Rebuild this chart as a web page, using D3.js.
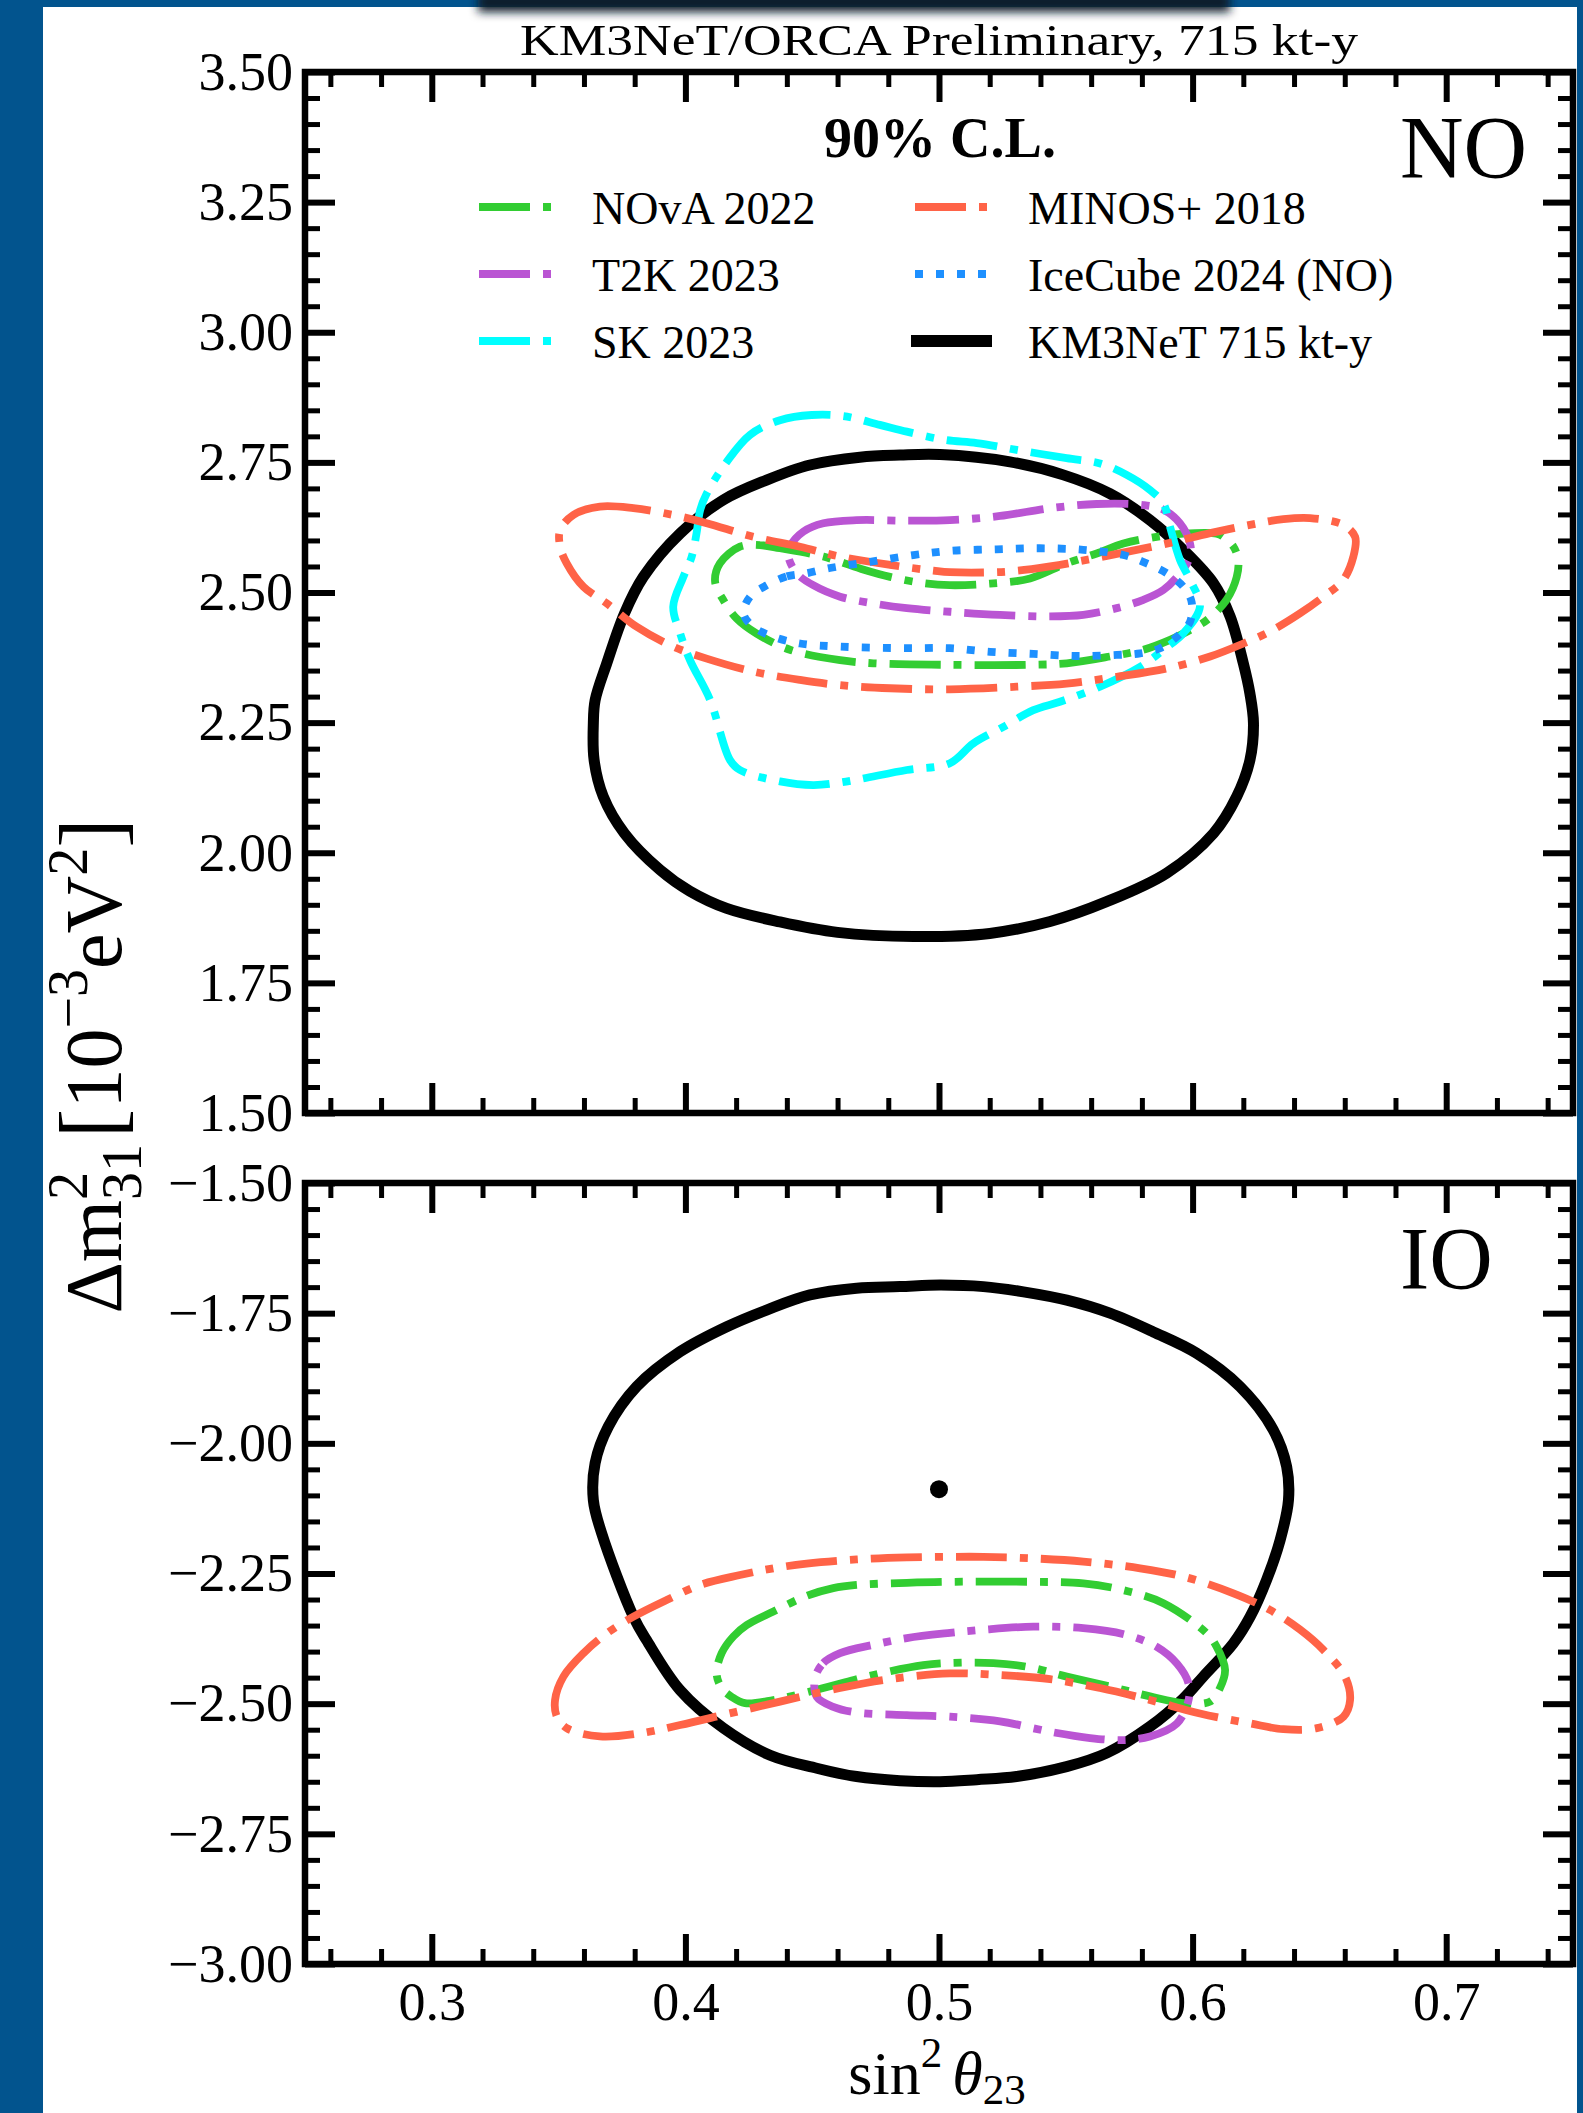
<!DOCTYPE html>
<html>
<head>
<meta charset="utf-8">
<script src="https://cdn.jsdelivr.net/npm/d3@7"></script>
<style>
  html, body { margin: 0; padding: 0; background: #02548e; }
  svg { display: block; }
  text { font-family: "Liberation Serif", "Times New Roman", serif; fill: #000; }
</style>
</head>
<body>
<svg id="chart" width="1583" height="2113"></svg>
<script>
// ---- values ----
const xTicks = [0.3, 0.4, 0.5, 0.6, 0.7];
const yTicksNO = [1.5, 1.75, 2.0, 2.25, 2.5, 2.75, 3.0, 3.25, 3.5];
const yTicksIO = [-3.0, -2.75, -2.5, -2.25, -2.0, -1.75, -1.5];

// 90% C.L. contours, normal ordering  [sin^2 theta23, dm31^2]
const km3netNO = [[0.3637,2.249],[0.3644,2.293],[0.369,2.364],[0.376,2.460],[0.3834,2.530],[0.398,2.614],[0.415,2.678],[0.432,2.716],[0.4491,2.745],[0.4688,2.760],[0.4846,2.764],[0.5004,2.765],[0.528,2.751],[0.549,2.726],[0.5674,2.690],[0.5832,2.639],[0.5963,2.582],[0.6082,2.518],[0.6148,2.454],[0.620,2.364],[0.6226,2.306],[0.624,2.249],[0.6226,2.178],[0.6174,2.108],[0.6082,2.037],[0.5898,1.961],[0.5661,1.906],[0.5438,1.868],[0.52,1.845],[0.49,1.839],[0.46,1.847],[0.4373,1.867],[0.4163,1.893],[0.4018,1.926],[0.390,1.967],[0.376,2.037],[0.3676,2.108],[0.364,2.178]];
const skNO = [[0.4255,2.803],[0.4373,2.831],[0.4498,2.841],[0.4623,2.839],[0.4767,2.822],[0.4873,2.809],[0.5024,2.793],[0.5149,2.787],[0.5306,2.774],[0.5503,2.758],[0.5635,2.748],[0.5740,2.726],[0.5832,2.697],[0.5885,2.671],[0.5911,2.626],[0.5950,2.563],[0.5990,2.524],[0.6029,2.473],[0.5964,2.422],[0.5885,2.390],[0.5793,2.357],[0.5635,2.319],[0.5477,2.290],[0.5372,2.274],[0.5254,2.242],[0.5135,2.210],[0.5043,2.172],[0.4873,2.159],[0.4610,2.135],[0.4504,2.130],[0.4373,2.137],[0.4215,2.159],[0.4176,2.178],[0.4097,2.294],[0.4018,2.370],[0.3979,2.422],[0.3952,2.473],[0.3992,2.530],[0.4025,2.569],[0.4044,2.614],[0.4058,2.658],[0.4084,2.690],[0.4163,2.751]];
const novaNO = [[0.4215,2.588],[0.4294,2.591],[0.4373,2.585],[0.4544,2.569],[0.4689,2.546],[0.4807,2.530],[0.4938,2.518],[0.5043,2.514],[0.5201,2.517],[0.5359,2.527],[0.5503,2.556],[0.5622,2.575],[0.5727,2.594],[0.5858,2.607],[0.5964,2.613],[0.6095,2.613],[0.6121,2.607],[0.6161,2.588],[0.6180,2.563],[0.6174,2.530],[0.6134,2.486],[0.6056,2.447],[0.5990,2.428],[0.5911,2.409],[0.5806,2.390],[0.5674,2.377],[0.5504,2.364],[0.5346,2.361],[0.5043,2.361],[0.4741,2.364],[0.4610,2.370],[0.4412,2.390],[0.4281,2.421],[0.4202,2.450],[0.4150,2.485],[0.4117,2.521],[0.4136,2.556]];
const t2kNO = [[0.4465,2.617],[0.4544,2.633],[0.4675,2.639],[0.4873,2.638],[0.5043,2.639],[0.5241,2.647],[0.5438,2.662],[0.5622,2.670],[0.5806,2.668],[0.5885,2.659],[0.5950,2.633],[0.5990,2.594],[0.5990,2.569],[0.5951,2.537],[0.5885,2.505],[0.5806,2.486],[0.5701,2.470],[0.5569,2.457],[0.5438,2.454],[0.5241,2.457],[0.5043,2.463],[0.4873,2.470],[0.4741,2.479],[0.4610,2.492],[0.4504,2.514],[0.4439,2.537],[0.4406,2.569],[0.4412,2.588]];
const icecubeNO = [[0.4321,2.514],[0.4400,2.531],[0.4478,2.537],[0.4570,2.547],[0.4728,2.559],[0.4899,2.572],[0.5043,2.580],[0.5227,2.583],[0.5398,2.585],[0.5569,2.582],[0.5727,2.572],[0.5819,2.556],[0.5898,2.537],[0.5964,2.511],[0.5996,2.482],[0.5990,2.444],[0.5938,2.415],[0.5872,2.393],[0.5793,2.383],[0.5701,2.380],[0.5543,2.378],[0.5372,2.382],[0.5201,2.386],[0.5043,2.393],[0.4873,2.393],[0.4610,2.396],[0.4452,2.402],[0.4347,2.415],[0.4268,2.434],[0.4229,2.460],[0.4255,2.492]];
const minosNO = [[0.3558,2.649],[0.3663,2.665],[0.3795,2.662],[0.3952,2.649],[0.4084,2.633],[0.4268,2.607],[0.4452,2.588],[0.4610,2.569],[0.4807,2.553],[0.4978,2.542],[0.5043,2.539],[0.5267,2.540],[0.5438,2.550],[0.5596,2.564],[0.5740,2.578],[0.5898,2.594],[0.6069,2.614],[0.6226,2.630],[0.6358,2.641],[0.6463,2.643],[0.6594,2.630],[0.6641,2.607],[0.6634,2.569],[0.6594,2.524],[0.6516,2.492],[0.6424,2.460],[0.6305,2.425],[0.6200,2.402],[0.6069,2.377],[0.5898,2.354],[0.5701,2.338],[0.5503,2.325],[0.5306,2.319],[0.5043,2.314],[0.4807,2.316],[0.4610,2.322],[0.4452,2.332],[0.4268,2.348],[0.4084,2.373],[0.3952,2.396],[0.3808,2.434],[0.3690,2.479],[0.3598,2.511],[0.3532,2.556],[0.3506,2.588],[0.3506,2.620]];

// inverted ordering
const km3netIO = [[0.3637,-2.109],[0.3644,-2.038],[0.3696,-1.968],[0.3808,-1.891],[0.3979,-1.824],[0.4163,-1.776],[0.4320,-1.744],[0.4491,-1.715],[0.4675,-1.702],[0.4846,-1.699],[0.5004,-1.696],[0.5175,-1.699],[0.5333,-1.709],[0.5504,-1.725],[0.5674,-1.750],[0.5845,-1.786],[0.6016,-1.827],[0.6187,-1.891],[0.6318,-1.974],[0.6371,-2.045],[0.6378,-2.109],[0.6345,-2.186],[0.6292,-2.262],[0.6227,-2.333],[0.6161,-2.384],[0.6042,-2.448],[0.5964,-2.490],[0.5832,-2.544],[0.5661,-2.595],[0.5503,-2.621],[0.5306,-2.640],[0.5149,-2.646],[0.5004,-2.650],[0.4846,-2.648],[0.4675,-2.640],[0.4518,-2.624],[0.4334,-2.599],[0.4150,-2.547],[0.3979,-2.474],[0.3847,-2.378],[0.3795,-2.333],[0.3670,-2.173]];
const minosIO = [[0.3486,-2.493],[0.3519,-2.448],[0.3598,-2.403],[0.3690,-2.365],[0.3795,-2.333],[0.3926,-2.301],[0.4058,-2.272],[0.4215,-2.253],[0.4347,-2.240],[0.4478,-2.231],[0.4675,-2.223],[0.4873,-2.219],[0.5043,-2.218],[0.5175,-2.218],[0.5372,-2.221],[0.5569,-2.227],[0.5793,-2.240],[0.5964,-2.256],[0.6161,-2.288],[0.6305,-2.320],[0.6424,-2.358],[0.6516,-2.397],[0.6601,-2.448],[0.6621,-2.493],[0.6595,-2.525],[0.6490,-2.547],[0.6358,-2.549],[0.6227,-2.538],[0.6029,-2.519],[0.5832,-2.493],[0.5635,-2.470],[0.5438,-2.453],[0.5241,-2.445],[0.5043,-2.442],[0.4807,-2.453],[0.4610,-2.470],[0.4373,-2.496],[0.4163,-2.520],[0.3979,-2.541],[0.3821,-2.557],[0.3663,-2.563],[0.3532,-2.547],[0.3493,-2.525]];
const novaIO = [[0.4143,-2.403],[0.4189,-2.371],[0.4242,-2.349],[0.4347,-2.323],[0.4478,-2.293],[0.4583,-2.278],[0.4675,-2.272],[0.4873,-2.268],[0.5043,-2.266],[0.5372,-2.266],[0.5569,-2.269],[0.5727,-2.282],[0.5885,-2.307],[0.6056,-2.365],[0.6095,-2.391],[0.6128,-2.435],[0.6108,-2.470],[0.6069,-2.496],[0.5964,-2.499],[0.5832,-2.486],[0.5674,-2.467],[0.5504,-2.448],[0.5346,-2.429],[0.5214,-2.422],[0.5043,-2.422],[0.4938,-2.426],[0.4741,-2.445],[0.4544,-2.470],[0.4347,-2.493],[0.4235,-2.499],[0.4183,-2.487],[0.4143,-2.470],[0.4123,-2.442]];
const t2kIO = [[0.4511,-2.451],[0.4544,-2.422],[0.4610,-2.403],[0.4741,-2.387],[0.4873,-2.374],[0.5043,-2.364],[0.5175,-2.358],[0.5372,-2.352],[0.5569,-2.355],[0.5740,-2.368],[0.5859,-2.391],[0.5938,-2.423],[0.5984,-2.461],[0.5984,-2.493],[0.5938,-2.538],[0.5832,-2.563],[0.5727,-2.570],[0.5596,-2.566],[0.5438,-2.554],[0.5241,-2.534],[0.5043,-2.525],[0.4873,-2.522],[0.4675,-2.517],[0.4583,-2.506],[0.4518,-2.487]];
const bestFitIO = [0.5, -2.088];

const legendLabels = ['NOvA 2022', 'T2K 2023', 'SK 2023', 'MINOS+ 2018', 'IceCube 2024 (NO)', 'KM3NeT 715 kt-y'];

// ---- styles ----
const style = {
  nova:    {color: '#32cd32', dash: '51,13,8,13', width: 7.8},
  t2k:     {color: '#ba55d3', dash: '51,13,8,13', width: 7.8},
  sk:      {color: '#00ffff', dash: '51,13,8,13', width: 7.8},
  minos:   {color: '#ff6347', dash: '51,13,8,13', width: 7.8},
  icecube: {color: '#1e90ff', dash: '8,13',       width: 7.8},
  km3net:  {color: '#000000', dash: null,         width: 11}
};
const legendKeys = ['nova', 't2k', 'sk', 'minos', 'icecube', 'km3net'];

const W = 1583, H = 2113;
const svg = d3.select('#chart');

// slide background
svg.append('rect').attr('width', W).attr('height', H).attr('fill', '#02548e');
svg.append('rect').attr('x', 43).attr('y', 7).attr('width', 1534).attr('height', H - 7).attr('fill', '#fff');
const defs = svg.append('defs');
defs.append('filter').attr('id', 'shadow')
    .attr('x', '-10%').attr('y', '-300%').attr('width', '120%').attr('height', '700%')
    .append('feGaussianBlur').attr('stdDeviation', 5);
svg.append('rect').attr('x', 478).attr('y', -8).attr('width', 752).attr('height', 20)
    .attr('fill', '#0a1a2c').attr('filter', 'url(#shadow)');

// scales
const x = d3.scaleLinear().domain([0.25, 0.75]).range([305, 1573]);
const yNO = d3.scaleLinear().domain([1.5, 3.5]).range([1113, 72]);
const yIO = d3.scaleLinear().domain([-3.0, -1.5]).range([1964, 1183]);

const xMinor = d3.range(13, 38).filter(i => i % 5 !== 0).map(i => i * 0.02);
const yMinorNO = d3.range(30, 71).filter(i => i % 5 !== 0).map(i => i * 0.05);
const yMinorIO = d3.range(-60, -29).filter(i => i % 5 !== 0).map(i => i * 0.05);

function drawContour(y, pts, key) {
    const s = style[key];
    const line = d3.line()
        .x(d => x(d[0]))
        .y(d => y(d[1]))
        .curve(d3.curveCatmullRomClosed.alpha(0.5));
    svg.append('path')
        .datum(pts)
        .attr('d', line)
        .attr('fill', 'none')
        .attr('stroke', s.color)
        .attr('stroke-width', s.width)
        .attr('stroke-dasharray', s.dash)
        .attr('stroke-linejoin', 'round')
        .attr('stroke-linecap', 'butt');
}

function styleAxis(g, w) {
    g.select('.domain').remove();
    g.selectAll('.tick line').attr('stroke', '#000').attr('stroke-width', w);
    g.selectAll('.tick text').attr('font-size', 54).attr('fill', '#000')
        .attr('font-family', '"Liberation Serif", serif');
}

function drawFrame(y, yMajor, yMinor, showX) {
    const [yb, yt] = y.range();
    const xl = x.range()[0], xr = x.range()[1];
    // minor ticks
    const gm = svg.append('g');
    gm.append('g').attr('transform', `translate(0,${yb})`)
        .call(d3.axisBottom(x).tickValues(xMinor).tickSize(-15).tickFormat('')).call(g => styleAxis(g, 5));
    gm.append('g').attr('transform', `translate(0,${yt})`)
        .call(d3.axisTop(x).tickValues(xMinor).tickSize(-15).tickFormat('')).call(g => styleAxis(g, 5));
    gm.append('g').attr('transform', `translate(${xl},0)`)
        .call(d3.axisLeft(y).tickValues(yMinor).tickSize(-15).tickFormat('')).call(g => styleAxis(g, 5));
    gm.append('g').attr('transform', `translate(${xr},0)`)
        .call(d3.axisRight(y).tickValues(yMinor).tickSize(-15).tickFormat('')).call(g => styleAxis(g, 5));
    // major ticks
    svg.append('g').attr('transform', `translate(0,${yb})`)
        .call(d3.axisBottom(x).tickValues(xTicks).tickSize(-30).tickPadding(18)
            .tickFormat(showX ? d3.format('.1f') : ''))
        .call(g => styleAxis(g, 6));
    svg.append('g').attr('transform', `translate(0,${yt})`)
        .call(d3.axisTop(x).tickValues(xTicks).tickSize(-30).tickFormat(''))
        .call(g => styleAxis(g, 6));
    svg.append('g').attr('transform', `translate(${xl},0)`)
        .call(d3.axisLeft(y).tickValues(yMajor).tickSize(-30).tickPadding(12).tickFormat(d3.format('.2f')))
        .call(g => styleAxis(g, 6));
    svg.append('g').attr('transform', `translate(${xr},0)`)
        .call(d3.axisRight(y).tickValues(yMajor).tickSize(-30).tickFormat(''))
        .call(g => styleAxis(g, 6));
    // frame
    svg.append('rect')
        .attr('x', xl).attr('y', yt)
        .attr('width', xr - xl).attr('height', yb - yt)
        .attr('fill', 'none').attr('stroke', '#000').attr('stroke-width', 6.5);
}

// ---- NO panel ----
drawContour(yNO, km3netNO, 'km3net');
drawContour(yNO, novaNO, 'nova');
drawContour(yNO, t2kNO, 't2k');
drawContour(yNO, skNO, 'sk');
drawContour(yNO, minosNO, 'minos');
drawContour(yNO, icecubeNO, 'icecube');
drawFrame(yNO, yTicksNO, yMinorNO, false);

// ---- IO panel ----
drawContour(yIO, km3netIO, 'km3net');
drawContour(yIO, novaIO, 'nova');
drawContour(yIO, t2kIO, 't2k');
drawContour(yIO, minosIO, 'minos');
svg.append('circle')
    .attr('cx', x(bestFitIO[0])).attr('cy', yIO(bestFitIO[1]))
    .attr('r', 9).attr('fill', '#000');
drawFrame(yIO, yTicksIO, yMinorIO, true);

// panel names
svg.append('text').attr('x', 1400).attr('y', yNO.range()[1] + 105).attr('font-size', 88).text('NO');
svg.append('text').attr('x', 1400).attr('y', yIO.range()[1] + 105).attr('font-size', 88).text('IO');

// title
svg.append('text')
    .attr('x', 939).attr('y', 55)
    .attr('text-anchor', 'middle')
    .attr('font-size', 44)
    .attr('textLength', 838).attr('lengthAdjust', 'spacingAndGlyphs')
    .text('KM3NeT/ORCA Preliminary, 715 kt-y');

// legend
svg.append('text')
    .attr('x', 940).attr('y', 157)
    .attr('text-anchor', 'middle')
    .attr('font-size', 56).attr('font-weight', 'bold')
    .text('90% C.L.');

const rowBase = [224, 291, 358];
legendKeys.forEach((key, i) => {
    const col = Math.floor(i / 3), row = i % 3;
    const s = style[key];
    const hx0 = col === 0 ? 479 : (key === 'km3net' ? 911 : 915);
    const hx1 = col === 0 ? 552 : (key === 'km3net' ? 992 : 988);
    const tx = col === 0 ? 592 : 1028;
    const yc = rowBase[row] - 17;
    svg.append('path')
        .attr('d', d3.line()([[hx0, yc], [hx1, yc]]))
        .attr('fill', 'none')
        .attr('stroke', s.color)
        .attr('stroke-width', key === 'km3net' ? 12 : 8)
        .attr('stroke-dasharray', s.dash);
    svg.append('text')
        .attr('x', tx).attr('y', rowBase[row])
        .attr('font-size', 46)
        .text(legendLabels[i]);
});

// x label
const xl = svg.append('text')
    .attr('x', 937).attr('y', 2094)
    .attr('text-anchor', 'middle')
    .attr('font-size', 62);
xl.append('tspan').text('sin');
xl.append('tspan').attr('font-size', 43).attr('dy', -27).text('2');
xl.append('tspan').attr('dy', 27).attr('dx', 10).attr('font-style', 'italic').text('θ');
xl.append('tspan').attr('font-size', 43).attr('dy', 10).text('23');

// y label
const yl = svg.append('text')
    .attr('transform', 'translate(121,1066) rotate(-90)')
    .attr('text-anchor', 'middle')
    .attr('font-size', 80);
yl.append('tspan').text('Δm');
yl.append('tspan').attr('font-size', 56).attr('dy', -34).text('2');
yl.append('tspan').attr('font-size', 56).attr('dx', -28).attr('dy', 54).text('31');
yl.append('tspan').attr('font-size', 88).attr('dx', 6).attr('dy', -20).text('[');
yl.append('tspan').text('10');
yl.append('tspan').attr('font-size', 56).attr('dy', -34).text('−3');
yl.append('tspan').attr('dy', 34).text('eV');
yl.append('tspan').attr('font-size', 56).attr('dy', -34).text('2');
yl.append('tspan').attr('font-size', 88).attr('dy', 34).text(']');
</script>
</body>
</html>
